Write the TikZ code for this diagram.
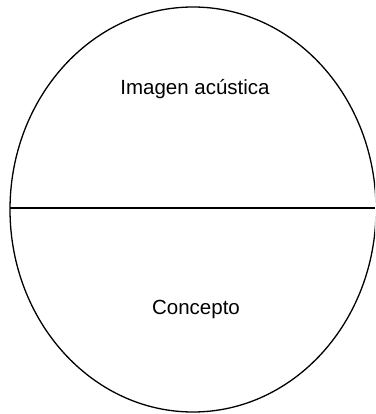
\documentclass[tikz,border=0pt]{standalone}
\usepackage{fontspec}
\setmainfont{Liberation Sans}
\begin{document}
\begin{tikzpicture}[x=1pt,y=-1pt,
  lbl/.style={anchor=base,inner sep=0pt,font=\fontsize{20.5}{24}\selectfont},
  stroke/.style={line width=1.3pt,black}]
\useasboundingbox (0,0) rectangle (375,414);
\begin{scope}
\clip (0,0) rectangle (375,414);
\draw[stroke] (193,209.5) ellipse [x radius=183, y radius=202.5];
\coordinate (l) at (10,208);
\coordinate (r) at (375,208);
\draw[stroke] (l) -- (r);
\end{scope}
\node[lbl] (top) at (195,95) {Imagen acústica};
\node[lbl] (bot) at (196,314) {Concepto};
\end{tikzpicture}
\end{document}
